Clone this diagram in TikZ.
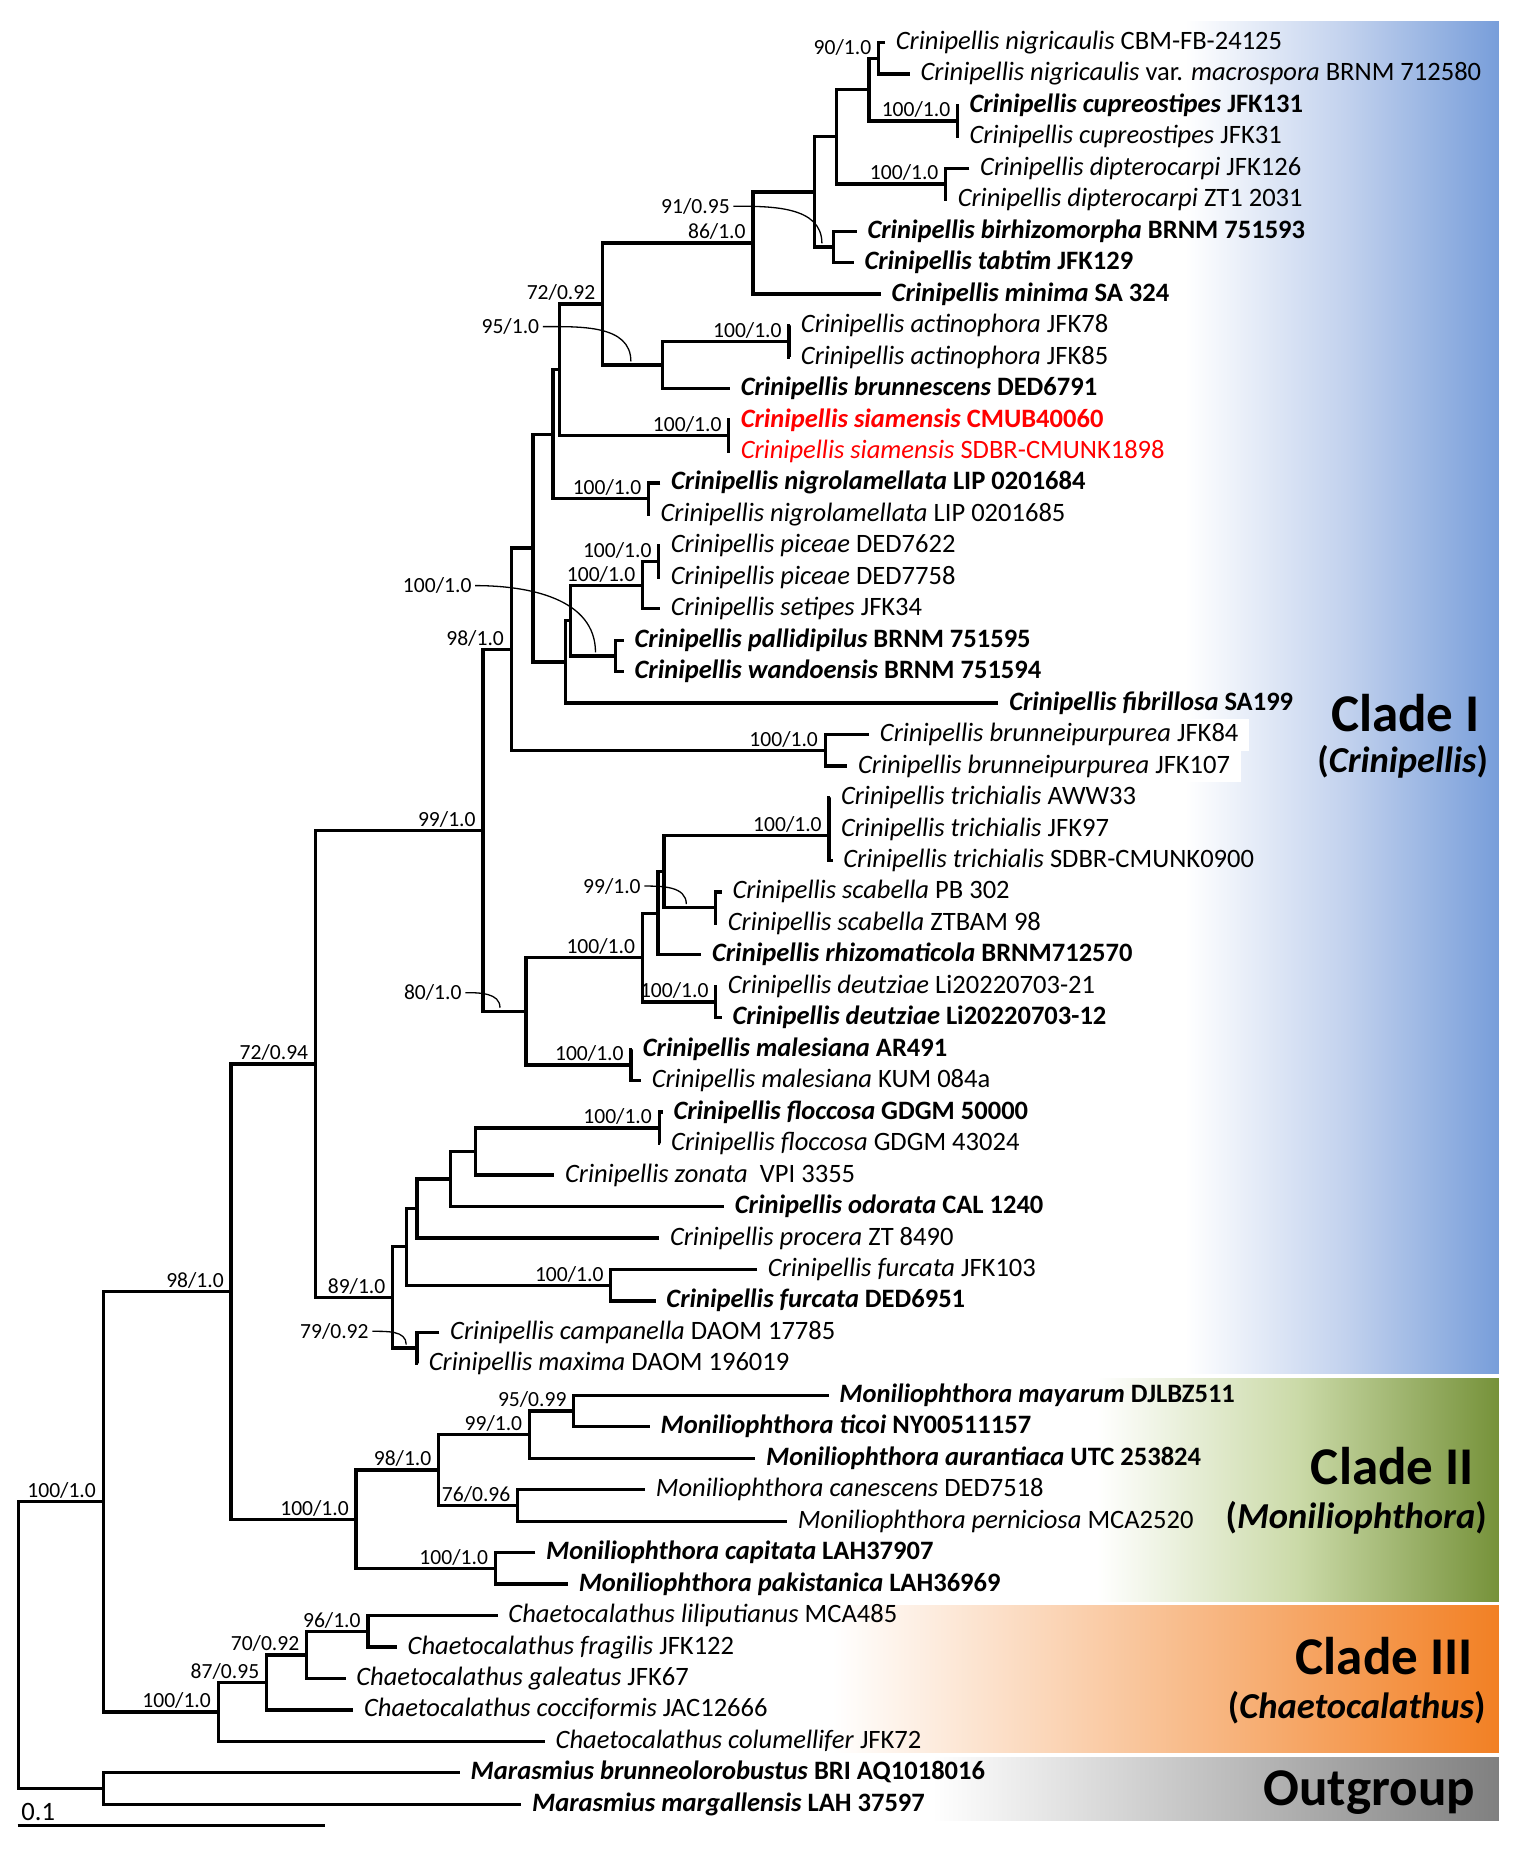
\documentclass[tikz,border=0pt]{standalone}
\usepackage{fontspec}
\setmainfont{Carlito}
\definecolor{cladeblue}{RGB}{120,158,218}
\definecolor{cladebluemid}{RGB}{196,211,238}
\definecolor{cladegreen}{RGB}{118,146,58}
\definecolor{cladegreenmid}{RGB}{203,218,168}
\definecolor{cladeorange}{RGB}{242,128,36}
\definecolor{cladegray}{RGB}{128,128,128}
\definecolor{siamred}{RGB}{255,0,0}
\begin{document}
\begin{tikzpicture}[x=1pt,y=-26.68pt,
  tip/.style={anchor=west,inner xsep=9pt,inner ysep=1pt,text height=17pt,
    text depth=5pt,font=\fontsize{22.5}{26}\selectfont},
  btip/.style={tip,font=\fontsize{22.5}{26}\selectfont\bfseries},
  rtip/.style={tip,text=siamred},
  wtip/.style={tip,fill=white,inner ysep=2.5pt},
  sup/.style={anchor=base east,inner sep=0pt,font=\fontsize{18.3}{20}\selectfont},
  supc/.style={sup,anchor=east},
  branch/.style={line width=2.8pt,line join=miter},
  ptr/.style={line width=1.1pt},
  clade/.style={anchor=base east,inner sep=0pt,
    font=\fontsize{45}{50}\selectfont\bfseries},
  genus/.style={anchor=base east,inner sep=0pt,
    font=\fontsize{31}{35}\selectfont\bfseries}]
\useasboundingbox (0,-0.3493) rectangle (1286,58.4213);
\shade[left color=white,right color=cladeblue,middle color=cladebluemid]
  (1005,0.325) rectangle (1271,43.317);
\shade[left color=white,right color=cladegreen,middle color=cladegreenmid]
  (930,43.467) rectangle (1271,50.55);
\shade[left color=white,right color=cladeorange]
  (706,50.68) rectangle (1271,55.35);
\shade[left color=white,right color=cladegray]
  (791,55.5) rectangle (1271,57.5);
\node[tip] (l1) at (750.5,1) {\textit{Crinipellis nigricaulis} CBM-FB-24125};
\node[tip] (l2) at (771.5,2) {\textit{Crinipellis nigricaulis} var. \textit{macrospora} BRNM 712580};
\node[btip] (l3) at (813,3) {\textit{Crinipellis cupreostipes} JFK131};
\node[tip] (l4) at (813,4) {\textit{Crinipellis cupreostipes} JFK31};
\node[tip] (l5) at (822,5) {\textit{Crinipellis dipterocarpi} JFK126};
\node[tip] (l6) at (803,6) {\textit{Crinipellis dipterocarpi} ZT1 2031};
\node[btip] (l7) at (726.5,7) {\textit{Crinipellis birhizomorpha} BRNM 751593};
\node[btip] (l8) at (724,8) {\textit{Crinipellis tabtim} JFK129};
\node[btip] (l9) at (747,9) {\textit{Crinipellis minima} SA 324};
\node[tip] (l10) at (670,10) {\textit{Crinipellis actinophora} JFK78};
\node[tip] (l11) at (670,11) {\textit{Crinipellis actinophora} JFK85};
\node[btip] (l12) at (619,12) {\textit{Crinipellis brunnescens} DED6791};
\node[btip,text=siamred] (l13) at (619,13) {\textit{Crinipellis siamensis} CMUB40060};
\node[rtip] (l14) at (619,14) {\textit{Crinipellis siamensis} SDBR-CMUNK1898};
\node[btip] (l15) at (560,15) {\textit{Crinipellis nigrolamellata} LIP 0201684};
\node[tip] (l16) at (551,16) {\textit{Crinipellis nigrolamellata} LIP 0201685};
\node[tip] (l17) at (559.7,17) {\textit{Crinipellis piceae} DED7622};
\node[tip] (l18) at (559.7,18) {\textit{Crinipellis piceae} DED7758};
\node[tip] (l19) at (559.7,19) {\textit{Crinipellis setipes} JFK34};
\node[btip] (l20) at (529,20) {\textit{Crinipellis pallidipilus} BRNM 751595};
\node[btip] (l21) at (529,21) {\textit{Crinipellis wandoensis} BRNM 751594};
\node[btip] (l22) at (846.7,22) {\textit{Crinipellis fibrillosa} SA199};
\node[wtip] (l23) at (737,23) {\textit{Crinipellis brunneipurpurea} JFK84};
\node[wtip] (l24) at (718.5,24) {\textit{Crinipellis brunneipurpurea} JFK107};
\node[tip] (l25) at (704,25) {\textit{Crinipellis trichialis} AWW33};
\node[tip] (l26) at (704,26) {\textit{Crinipellis trichialis} JFK97};
\node[tip] (l27) at (706,27) {\textit{Crinipellis trichialis} SDBR-CMUNK0900};
\node[tip] (l28) at (612,28) {\textit{Crinipellis scabella} PB 302};
\node[tip] (l29) at (608,29) {\textit{Crinipellis scabella} ZTBAM 98};
\node[btip] (l30) at (594.7,30) {\textit{Crinipellis rhizomaticola} BRNM712570};
\node[tip] (l31) at (608,31) {\textit{Crinipellis deutziae} Li20220703-21};
\node[btip] (l32) at (612,32) {\textit{Crinipellis deutziae} Li20220703-12};
\node[btip] (l33) at (536,33) {\textit{Crinipellis malesiana} AR491};
\node[tip] (l34) at (543.5,34) {\textit{Crinipellis malesiana} KUM 084a};
\node[btip] (l35) at (562,35) {\textit{Crinipellis floccosa} GDGM 50000};
\node[tip] (l36) at (560,36) {\textit{Crinipellis floccosa} GDGM 43024};
\node[tip] (l37) at (470,37) {\textit{Crinipellis zonata}\ \ VPI 3355};
\node[btip] (l38) at (614,38) {\textit{Crinipellis odorata} CAL 1240};
\node[tip] (l39) at (559,39) {\textit{Crinipellis procera} ZT 8490};
\node[tip] (l40) at (642,40) {\textit{Crinipellis furcata} JFK103};
\node[btip] (l41) at (556,41) {\textit{Crinipellis furcata} DED6951};
\node[tip] (l42) at (372.6,42) {\textit{Crinipellis campanella} DAOM 17785};
\node[tip] (l43) at (354.5,43) {\textit{Crinipellis maxima} DAOM 196019};
\node[btip] (l44) at (702.6,44) {\textit{Moniliophthora mayarum} DJLBZ511};
\node[btip] (l45) at (551,45) {\textit{Moniliophthora ticoi} NY00511157};
\node[btip] (l46) at (640.5,46) {\textit{Moniliophthora aurantiaca} UTC 253824};
\node[tip] (l47) at (547,47) {\textit{Moniliophthora canescens} DED7518};
\node[tip] (l48) at (667.5,48) {\textit{Moniliophthora perniciosa} MCA2520};
\node[btip] (l49) at (454,49) {\textit{Moniliophthora capitata} LAH37907};
\node[btip] (l50) at (481.6,50) {\textit{Moniliophthora pakistanica} LAH36969};
\node[tip] (l51) at (422,51) {\textit{Chaetocalathus liliputianus} MCA485};
\node[tip] (l52) at (336.5,52) {\textit{Chaetocalathus fragilis} JFK122};
\node[tip] (l53) at (293,53) {\textit{Chaetocalathus galeatus} JFK67};
\node[tip] (l54) at (299.6,54) {\textit{Chaetocalathus cocciformis} JAC12666};
\node[tip] (l55) at (462,55) {\textit{Chaetocalathus columellifer} JFK72};
\node[btip] (l56) at (390,56) {\textit{Marasmius brunneolorobustus} BRI AQ1018016};
\node[btip] (l57) at (442,57) {\textit{Marasmius margallensis} LAH 37597};
\coordinate (n1) at (745,1.5);
\coordinate (n2) at (812,3.5);
\coordinate (n3) at (737,2.5);
\coordinate (n4) at (802,5.5);
\coordinate (n5) at (709.6,4);
\coordinate (n6) at (707,7.5);
\coordinate (n7) at (691,5.75);
\coordinate (n8) at (638.5,7.375);
\coordinate (n9) at (669,10.5);
\coordinate (n10) at (562,11.25);
\coordinate (n11) at (511,9.3125);
\coordinate (n12) at (618,13.5);
\coordinate (n13) at (474.6,11.406);
\coordinate (n14) at (550,15.5);
\coordinate (n15) at (469,13.453);
\coordinate (n16) at (558.7,17.5);
\coordinate (n17) at (545,18.25);
\coordinate (n18) at (522,20.5);
\coordinate (n19) at (484,19.375);
\coordinate (n20) at (479.5,20.6875);
\coordinate (n21) at (452,17.070);
\coordinate (n22) at (699.8,23.5);
\coordinate (n23) at (433.5,20.285);
\coordinate (n24) at (703,26.2);
\coordinate (n25) at (607,28.5);
\coordinate (n26) at (563,27.35);
\coordinate (n27) at (558,28.675);
\coordinate (n28) at (607,31.5);
\coordinate (n29) at (544.7,30.088);
\coordinate (n30) at (535,33.5);
\coordinate (n31) at (446,31.794);
\coordinate (n32) at (409.5,26.040);
\coordinate (n33) at (559,35.5);
\coordinate (n34) at (403,36.25);
\coordinate (n35) at (382,37.125);
\coordinate (n36) at (353.5,38.0625);
\coordinate (n37) at (518,40.5);
\coordinate (n38) at (345,39.281);
\coordinate (n39) at (353.5,42.5);
\coordinate (n40) at (333,40.891);
\coordinate (n41) at (267.5,33.465);
\coordinate (n42) at (486.6,44.5);
\coordinate (n43) at (449,45.25);
\coordinate (n44) at (439,47.5);
\coordinate (n45) at (372,46.375);
\coordinate (n46) at (420,49.5);
\coordinate (n47) at (302,47.9375);
\coordinate (n48) at (196,40.701);
\coordinate (n49) at (312,51.5);
\coordinate (n50) at (260,52.25);
\coordinate (n51) at (226,53.125);
\coordinate (n52) at (185,54.0625);
\coordinate (n53) at (87.5,47.382);
\coordinate (n54) at (88,56.5);
\coordinate (root) at (15.4,51.941);
\draw[branch] (l1.west) -| (n1) |- (l2.west);
\draw[branch] (l3.west) -| (n2) |- (l4.west);
\draw[branch] (n1) -| (n3) |- (n2);
\draw[branch] (l5.west) -| (n4) |- (l6.west);
\draw[branch] (n3) -| (n5) |- (n4);
\draw[branch] (l7.west) -| (n6) |- (l8.west);
\draw[branch] (n5) -| (n7) |- (n6);
\draw[branch] (n7) -| (n8) |- (l9.west);
\draw[branch] (l10.west) -| (n9) |- (l11.west);
\draw[branch] (n9) -| (n10) |- (l12.west);
\draw[branch] (n8) -| (n11) |- (n10);
\draw[branch] (l13.west) -| (n12) |- (l14.west);
\draw[branch] (n11) -| (n13) |- (n12);
\draw[branch] (l15.west) -| (n14) |- (l16.west);
\draw[branch] (n13) -| (n15) |- (n14);
\draw[branch] (l17.west) -| (n16) |- (l18.west);
\draw[branch] (n16) -| (n17) |- (l19.west);
\draw[branch] (l20.west) -| (n18) |- (l21.west);
\draw[branch] (n17) -| (n19) |- (n18);
\draw[branch] (n19) -| (n20) |- (l22.west);
\draw[branch] (n15) -| (n21) |- (n20);
\draw[branch] (l23.west) -| (n22) |- (l24.west);
\draw[branch] (n21) -| (n23) |- (n22);
\draw[branch] (l25.west) -| (n24) |- (l27.west);
\draw[branch] (n24) |- (l26.west);
\draw[branch] (l28.west) -| (n25) |- (l29.west);
\draw[branch] (n24) -| (n26) |- (n25);
\draw[branch] (n26) -| (n27) |- (l30.west);
\draw[branch] (l31.west) -| (n28) |- (l32.west);
\draw[branch] (n27) -| (n29) |- (n28);
\draw[branch] (l33.west) -| (n30) |- (l34.west);
\draw[branch] (n29) -| (n31) |- (n30);
\draw[branch] (n23) -| (n32) |- (n31);
\draw[branch] (l35.west) -| (n33) |- (l36.west);
\draw[branch] (n33) -| (n34) |- (l37.west);
\draw[branch] (n34) -| (n35) |- (l38.west);
\draw[branch] (n35) -| (n36) |- (l39.west);
\draw[branch] (l40.west) -| (n37) |- (l41.west);
\draw[branch] (n36) -| (n38) |- (n37);
\draw[branch] (l42.west) -| (n39) |- (l43.west);
\draw[branch] (n38) -| (n40) |- (n39);
\draw[branch] (n32) -| (n41) |- (n40);
\draw[branch] (l44.west) -| (n42) |- (l45.west);
\draw[branch] (n42) -| (n43) |- (l46.west);
\draw[branch] (l47.west) -| (n44) |- (l48.west);
\draw[branch] (n43) -| (n45) |- (n44);
\draw[branch] (l49.west) -| (n46) |- (l50.west);
\draw[branch] (n45) -| (n47) |- (n46);
\draw[branch] (n41) -| (n48) |- (n47);
\draw[branch] (l51.west) -| (n49) |- (l52.west);
\draw[branch] (n49) -| (n50) |- (l53.west);
\draw[branch] (n50) -| (n51) |- (l54.west);
\draw[branch] (n51) -| (n52) |- (l55.west);
\draw[branch] (n48) -| (n53) |- (n52);
\draw[branch] (l56.west) -| (n54) |- (l57.west);
\draw[branch] (n53) -| (root) |- (n54);
\node[sup] (bs1) at ([xshift=-6pt,yshift=3.5pt]n1) {90/1.0};
\node[sup] (bs2) at ([xshift=-6pt,yshift=3.5pt]n2) {100/1.0};
\node[sup] (bs4) at ([xshift=-6pt,yshift=3.5pt]n4) {100/1.0};
\node[sup] (bs8) at ([xshift=-6pt,yshift=3.5pt]n8) {86/1.0};
\node[sup] (bs9) at ([xshift=-6pt,yshift=3.5pt]n9) {100/1.0};
\node[sup] (bs11) at ([xshift=-6pt,yshift=3.5pt]n11) {72/0.92};
\node[sup] (bs12) at ([xshift=-6pt,yshift=3.5pt]n12) {100/1.0};
\node[sup] (bs14) at ([xshift=-6pt,yshift=3.5pt]n14) {100/1.0};
\node[sup] (bs16) at ([xshift=-6pt,yshift=3.5pt]n16) {100/1.0};
\node[sup] (bs17) at ([xshift=-6pt,yshift=3.5pt]n17) {100/1.0};
\node[sup] (bs22) at ([xshift=-6pt,yshift=3.5pt]n22) {100/1.0};
\node[sup] (bs23) at ([xshift=-6pt,yshift=3.5pt]n23) {98/1.0};
\node[sup] (bs24) at ([xshift=-6pt,yshift=3.5pt]n24) {100/1.0};
\node[sup] (bs28) at ([xshift=-6pt,yshift=3.5pt]n28) {100/1.0};
\node[sup] (bs29) at ([xshift=-6pt,yshift=3.5pt]n29) {100/1.0};
\node[sup] (bs30) at ([xshift=-6pt,yshift=3.5pt]n30) {100/1.0};
\node[sup] (bs32) at ([xshift=-6pt,yshift=3.5pt]n32) {99/1.0};
\node[sup] (bs33) at ([xshift=-6pt,yshift=3.5pt]n33) {100/1.0};
\node[sup] (bs37) at ([xshift=-6pt,yshift=3.5pt]n37) {100/1.0};
\node[sup] (bs40) at ([xshift=-6pt,yshift=3.5pt]n40) {89/1.0};
\node[sup] (bs41) at ([xshift=-6pt,yshift=3.5pt]n41) {72/0.94};
\node[sup] (bs42) at ([xshift=-6pt,yshift=3.5pt]n42) {95/0.99};
\node[sup] (bs43) at ([xshift=-6pt,yshift=3.5pt]n43) {99/1.0};
\node[sup] (bs44) at ([xshift=-6pt,yshift=3.5pt]n44) {76/0.96};
\node[sup] (bs45) at ([xshift=-6pt,yshift=3.5pt]n45) {98/1.0};
\node[sup] (bs46) at ([xshift=-6pt,yshift=3.5pt]n46) {100/1.0};
\node[sup] (bs47) at ([xshift=-6pt,yshift=3.5pt]n47) {100/1.0};
\node[sup] (bs48) at ([xshift=-6pt,yshift=3.5pt]n48) {98/1.0};
\node[sup] (bs49) at ([xshift=-6pt,yshift=3.5pt]n49) {96/1.0};
\node[sup] (bs50) at ([xshift=-6pt,yshift=3.5pt]n50) {70/0.92};
\node[sup] (bs51) at ([xshift=-6pt,yshift=3.5pt]n51) {87/0.95};
\node[sup] (bs52) at ([xshift=-6pt,yshift=3.5pt]n52) {100/1.0};
\node[sup] (bs53) at ([xshift=-6pt,yshift=3.5pt]n53) {100/1.0};
\node[supc] (bs6) at (619,6.206) {91/0.95};
\node[supc] (bs10) at (457.4,10.033) {95/1.0};
\node[supc] (bs18) at (400,18.264) {100/1.0};
\node[supc] (bs25) at (543.5,27.814) {99/1.0};
\node[supc] (bs31) at (391.6,31.202) {80/1.0};
\node[supc] (bs39) at (312.8,41.967) {79/0.92};
\draw[ptr] ([xshift=3pt]bs6.east) to[out=0,in=90] ([xshift=-10pt,yshift=3pt]n6);
\draw[ptr] ([xshift=3pt]bs10.east) to[out=0,in=90] ([xshift=-27pt,yshift=3pt]n10);
\draw[ptr] ([xshift=3pt]bs18.east) to[out=0,in=90] ([xshift=-17pt,yshift=3pt]n18);
\draw[ptr] ([xshift=3pt]bs25.east) to[out=0,in=90] ([xshift=-25pt,yshift=3pt]n25);
\draw[ptr] ([xshift=3pt]bs31.east) to[out=0,in=90] ([xshift=-22pt,yshift=3pt]n31);
\draw[ptr] ([xshift=3pt]bs39.east) to[out=0,in=90] ([xshift=-9pt,yshift=3pt]n39);
\node[clade] (cI) at (1255,22.89) {Clade I};
\node[genus] (cIname) at (1262,24.2) {(\textit{Crinipellis})};
\node[clade] (cII) at (1250,46.84) {Clade II};
\node[genus] (cIIname) at (1261,48.23) {(\textit{Moniliophthora})};
\node[clade] (cIII) at (1249,52.87) {Clade III};
\node[genus] (cIIIname) at (1260,54.26) {(\textit{Chaetocalathus})};
\node[clade] (outg) at (1251,57.04) {Outgroup};
\coordinate (scaleL) at (15,57.67);
\coordinate (scaleR) at (276,57.67);
\draw[branch] (scaleL) -- (scaleR);
\node[anchor=base west,inner sep=0pt,font=\fontsize{22.5}{26}\selectfont]
  (scalelabel) at ([xshift=3pt,yshift=4pt]scaleL) {0.1};
\end{tikzpicture}
\end{document}
